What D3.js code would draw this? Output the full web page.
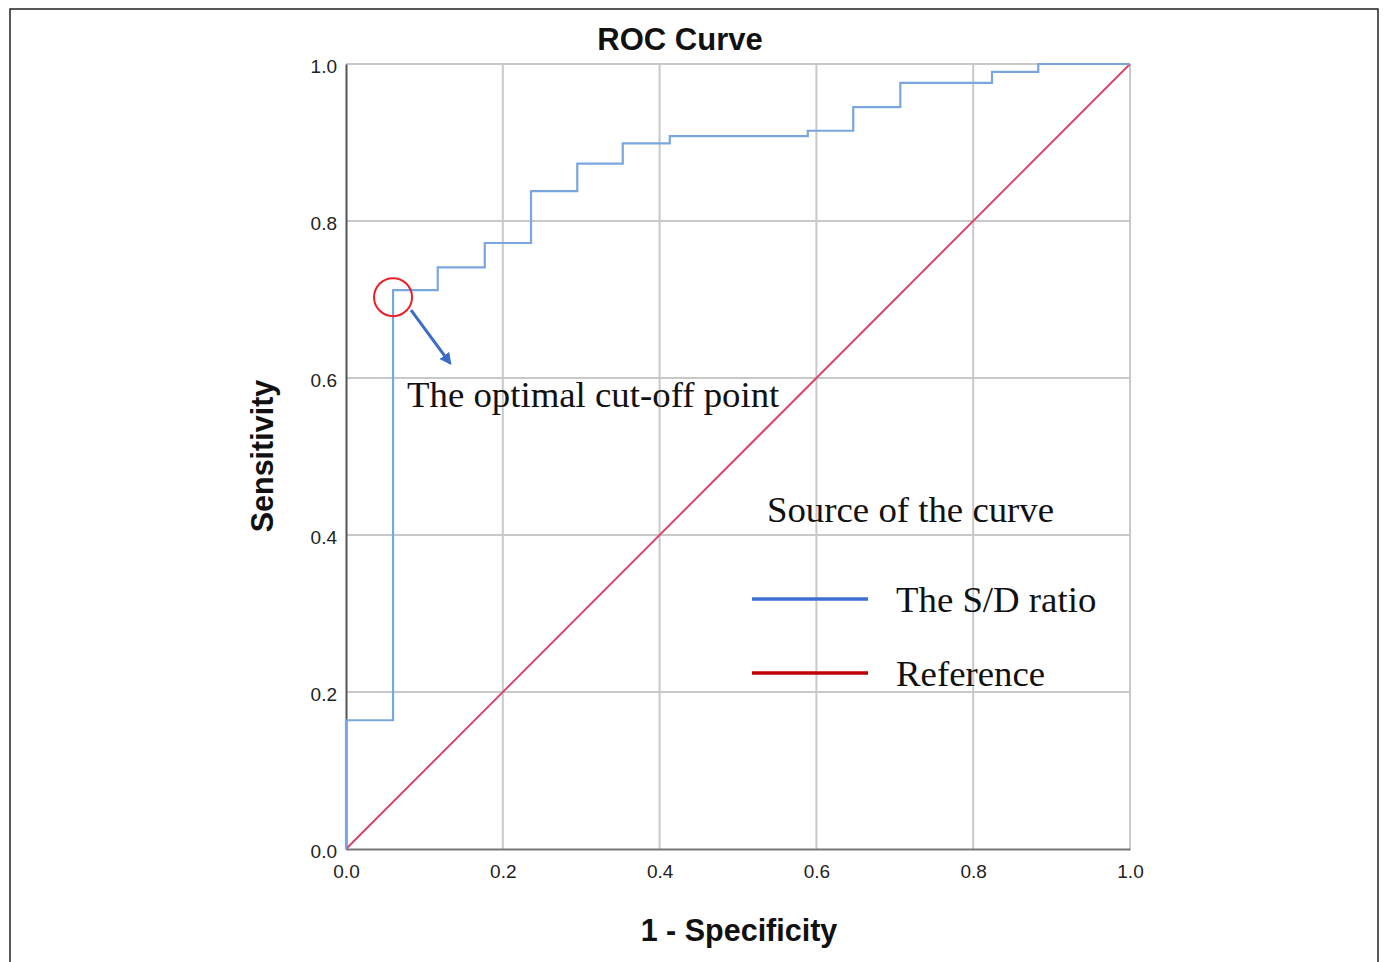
<!DOCTYPE html>
<html>
<head>
<meta charset="utf-8">
<script src="https://cdn.jsdelivr.net/npm/d3@7"></script>
<style>
    body { margin: 0; background: #fff; }
    svg { display: block; }
</style>
</head>
<body>
<div id="chart"></div>
<script>
// ROC step points: each pair is the right end of a horizontal run (fpr, tpr)
const fpr = [0, 0.06, 0.117, 0.177, 0.236, 0.295, 0.353, 0.413, 0.589, 0.647, 0.707, 0.824, 0.883, 1.0];
const tpr = [0, 0.164, 0.712, 0.741, 0.772, 0.838, 0.873, 0.899, 0.908, 0.915, 0.945, 0.976, 0.990, 1.0];
const refLine = [0, 1];
const ticks = [0, 0.2, 0.4, 0.6, 0.8, 1.0];
const cutoff = [0.06, 0.703];

const titleText = "ROC Curve";
const xLabel = "1 - Specificity";
const yLabel = "Sensitivity";
const legendTitle = "Source of the curve";
const legendNames = ["The S/D ratio", "Reference"];
const legendColors = ["#3c6fcf", "#c00000"];

const svgWidth = 1383;
const svgHeight = 962;

const svg = d3.select("#chart")
    .append("svg")
    .attr("width", svgWidth)
    .attr("height", svgHeight);

// outer frame
svg.append("rect")
    .attr("x", 10).attr("y", 9)
    .attr("width", 1368).attr("height", 970)
    .attr("fill", "none")
    .attr("stroke", "#222")
    .attr("stroke-width", 1.5);

const xScale = d3.scaleLinear().domain([0, 1]).range([346, 1130]);
const yScale = d3.scaleLinear().domain([0, 1]).range([849, 64]);

// grid
svg.append("g").selectAll("line")
    .data(ticks.slice(1))
    .enter().append("line")
    .attr("x1", d => xScale(d)).attr("x2", d => xScale(d))
    .attr("y1", yScale(0)).attr("y2", yScale(1))
    .attr("stroke", "#c8c8c8").attr("stroke-width", 2);

svg.append("g").selectAll("line")
    .data(ticks.slice(1))
    .enter().append("line")
    .attr("x1", xScale(0)).attr("x2", xScale(1))
    .attr("y1", d => yScale(d)).attr("y2", d => yScale(d))
    .attr("stroke", "#c8c8c8").attr("stroke-width", 2);

// axes
const xAxis = svg.append("g")
    .attr("transform", `translate(0, ${yScale(0)})`)
    .call(d3.axisBottom(xScale).tickValues(ticks).tickFormat(d3.format(".1f")).tickSize(0).tickPadding(16));

const yAxis = svg.append("g")
    .attr("transform", `translate(${xScale(0)}, 0)`)
    .call(d3.axisLeft(yScale).tickValues(ticks).tickFormat(d3.format(".1f")).tickSize(0).tickPadding(9));

xAxis.select(".domain").attr("stroke", "#777").attr("stroke-width", 2);
yAxis.select(".domain").attr("stroke", "#555").attr("stroke-width", 2);
[xAxis, yAxis].forEach(a => a.selectAll("text")
    .attr("font-family", "Liberation Sans, Arial, sans-serif")
    .attr("font-size", "19px")
    .attr("fill", "#222"));
yAxis.selectAll("text").attr("dy", "0.45em");

// reference diagonal
const line = d3.line().x(d => xScale(d[0])).y(d => yScale(d[1]));
svg.append("path")
    .datum(refLine.map(v => [v, v]))
    .attr("d", line)
    .attr("fill", "none")
    .attr("stroke", "#d9456a")
    .attr("stroke-width", 2);

// ROC step curve
const stepLine = d3.line()
    .x(d => xScale(d[0]))
    .y(d => yScale(d[1]))
    .curve(d3.curveStepBefore);

svg.append("path")
    .datum(fpr.map((f, i) => [f, tpr[i]]))
    .attr("d", stepLine)
    .attr("fill", "none")
    .attr("stroke", "#7aa6df")
    .attr("stroke-width", 2.2);

// cut-off annotation
svg.append("circle")
    .attr("cx", xScale(cutoff[0]))
    .attr("cy", yScale(cutoff[1]))
    .attr("r", 19)
    .attr("fill", "none")
    .attr("stroke", "#e8202a")
    .attr("stroke-width", 2);

svg.append("defs").append("marker")
    .attr("id", "arrow")
    .attr("viewBox", "0 0 10 10")
    .attr("refX", 8).attr("refY", 5)
    .attr("markerWidth", 4).attr("markerHeight", 4)
    .attr("orient", "auto")
    .append("path")
    .attr("d", "M0,0 L10,5 L0,10 z")
    .attr("fill", "#3a6cc8");

svg.append("line")
    .attr("x1", xScale(cutoff[0]) + 18).attr("y1", yScale(cutoff[1]) + 13)
    .attr("x2", xScale(cutoff[0]) + 57).attr("y2", yScale(cutoff[1]) + 66)
    .attr("stroke", "#3a6cc8")
    .attr("stroke-width", 3)
    .attr("marker-end", "url(#arrow)");

svg.append("text")
    .attr("x", 407).attr("y", 407)
    .attr("font-family", "Liberation Serif, Times New Roman, serif")
    .attr("font-size", "36.8px")
    .attr("fill", "#111")
    .text("The optimal cut-off point");

// legend
svg.append("text")
    .attr("x", 767).attr("y", 522)
    .attr("font-family", "Liberation Serif, Times New Roman, serif")
    .attr("font-size", "36.8px")
    .attr("fill", "#111")
    .text(legendTitle);

const legend = svg.append("g").selectAll("g")
    .data(legendNames)
    .enter().append("g")
    .attr("transform", (d, i) => `translate(752, ${599 + i * 74})`);

legend.append("line")
    .attr("x1", 0).attr("x2", 116)
    .attr("stroke", (d, i) => legendColors[i])
    .attr("stroke-width", 3.5);

legend.append("text")
    .attr("x", 144).attr("y", 13)
    .attr("font-family", "Liberation Serif, Times New Roman, serif")
    .attr("font-size", "36.8px")
    .attr("fill", "#111")
    .text(d => d);

// titles
svg.append("text")
    .attr("x", 680).attr("y", 50)
    .attr("text-anchor", "middle")
    .attr("font-family", "Liberation Sans, Arial, sans-serif")
    .attr("font-weight", "bold")
    .attr("font-size", "31px")
    .attr("fill", "#111")
    .text(titleText);

svg.append("text")
    .attr("x", 739).attr("y", 941)
    .attr("text-anchor", "middle")
    .attr("font-family", "Liberation Sans, Arial, sans-serif")
    .attr("font-weight", "bold")
    .attr("font-size", "30.5px")
    .attr("fill", "#111")
    .text(xLabel);

svg.append("text")
    .attr("transform", "translate(273, 456) rotate(-90)")
    .attr("text-anchor", "middle")
    .attr("font-family", "Liberation Sans, Arial, sans-serif")
    .attr("font-weight", "bold")
    .attr("font-size", "30.5px")
    .attr("fill", "#111")
    .text(yLabel);
</script>
</body>
</html>
